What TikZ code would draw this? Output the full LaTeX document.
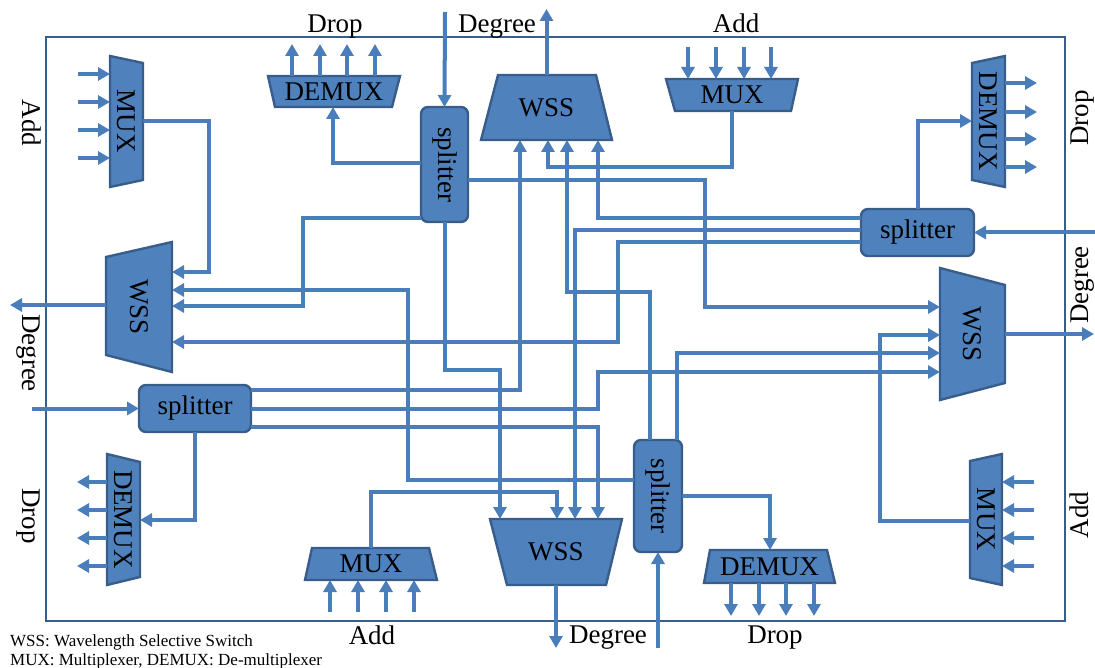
\documentclass[tikz,border=0pt]{standalone}
\usepackage{graphicx}
\usepackage{fontspec}
\setmainfont{Liberation Serif}
\usetikzlibrary{arrows.meta,backgrounds,calc}
\definecolor{bfill}{HTML}{4F81BD}
\definecolor{bedge}{HTML}{385D8A}
\definecolor{bline}{HTML}{4A7EBB}
\begin{document}
\begin{tikzpicture}[x=1pt,y=-1pt,
  bigfont/.style={font=\fontsize{27}{30}\selectfont},
  compbox/.style={bigfont, inner sep=0pt, outer sep=0pt},
  splbox/.style={compbox, draw=bedge, fill=bfill, line width=2.4pt, rounded corners=7pt},
  trapfill/.style={draw=bedge, fill=bfill, line width=2.4pt, line join=miter},
  wire/.style={draw=bline, line width=4pt},
  arw/.style={wire, -{Triangle[length=12pt,width=13pt]}},
  frm/.style={draw=bedge, line width=2.6pt},
  sidelbl/.style={bigfont, inner sep=0pt, anchor=base},
  legend/.style={font=\fontsize{17}{20}\selectfont, inner sep=0pt, anchor=base west}]
\useasboundingbox (0,0) rectangle (1095,668);
\draw[frm] (46,37) rectangle (1065,621);

% splitters
\node[splbox, minimum width=47pt, minimum height=115pt] (ST) at (444.5,164.5) {\rotatebox{-90}{splitter}};
\node[splbox, minimum width=113pt, minimum height=47pt] (SR) at (917.5,232.5) {splitter};
\node[splbox, minimum width=112pt, minimum height=47pt] (SL) at (195,408.5) {splitter};
\node[splbox, minimum width=48pt, minimum height=112pt] (SB) at (658,496) {\rotatebox{-90}{splitter}};

% trapezoid components (text nodes, shapes drawn behind)
\node[compbox, minimum width=33pt, minimum height=131pt] (ML) at (126.5,121.5) {\rotatebox{-90}{MUX}};
\node[compbox, minimum width=66pt, minimum height=130pt] (WL) at (139,307) {\rotatebox{-90}{WSS}};
\node[compbox, minimum width=33pt, minimum height=131pt] (DL) at (123.5,519.5) {\rotatebox{-90}{DEMUX}};
\node[compbox, minimum width=132pt, minimum height=31pt] (DT) at (334,91.5) {DEMUX};
\node[compbox, minimum width=131pt, minimum height=65pt] (WT) at (546.5,107.5) {WSS};
\node[compbox, minimum width=132pt, minimum height=32pt] (MT) at (732,95) {MUX};
\node[compbox, minimum width=33pt, minimum height=131pt] (DR) at (988.5,121.5) {\rotatebox{-90}{DEMUX}};
\node[compbox, minimum width=65pt, minimum height=132pt] (WR) at (972.5,334) {\rotatebox{-90}{WSS}};
\node[compbox, minimum width=32pt, minimum height=131pt] (MR) at (986,519.5) {\rotatebox{-90}{MUX}};
\node[compbox, minimum width=132pt, minimum height=66pt] (WB) at (556,552) {WSS};
\node[compbox, minimum width=131pt, minimum height=33pt] (DB) at (769.5,566.5) {DEMUX};
\node[compbox, minimum width=132pt, minimum height=32pt] (MB) at (371,564) {MUX};

\begin{scope}[on background layer]
\path[trapfill] (ML.north west) -- ($(ML.north east)+(0,7)$) -- ($(ML.south east)+(0,-7)$) -- (ML.south west) -- cycle;
\path[trapfill] ($(WL.north west)+(0,15)$) -- (WL.north east) -- (WL.south east) -- ($(WL.south west)+(0,-17)$) -- cycle;
\path[trapfill] (DL.north west) -- ($(DL.north east)+(0,8)$) -- ($(DL.south east)+(0,-8)$) -- (DL.south west) -- cycle;
\path[trapfill] (DT.north west) -- (DT.north east) -- ($(DT.south east)+(-8,0)$) -- ($(DT.south west)+(7,0)$) -- cycle;
\path[trapfill] ($(WT.north west)+(17,0)$) -- ($(WT.north east)+(-16,0)$) -- (WT.south east) -- (WT.south west) -- cycle;
\path[trapfill] (MT.north west) -- (MT.north east) -- ($(MT.south east)+(-7,0)$) -- ($(MT.south west)+(9,0)$) -- cycle;
\path[trapfill] ($(DR.north west)+(0,7)$) -- (DR.north east) -- (DR.south east) -- ($(DR.south west)+(0,-7)$) -- cycle;
\path[trapfill] (WR.north west) -- ($(WR.north east)+(0,17)$) -- ($(WR.south east)+(0,-17)$) -- (WR.south west) -- cycle;
\path[trapfill] ($(MR.north west)+(0,7)$) -- (MR.north east) -- (MR.south east) -- ($(MR.south west)+(0,-7)$) -- cycle;
\path[trapfill] (WB.north west) -- (WB.north east) -- ($(WB.south east)+(-16,0)$) -- ($(WB.south west)+(17,0)$) -- cycle;
\path[trapfill] ($(DB.north west)+(6,0)$) -- ($(DB.north east)+(-8,0)$) -- (DB.south east) -- (DB.south west) -- cycle;
\path[trapfill] ($(MB.north west)+(7,0)$) -- ($(MB.north east)+(-8,0)$) -- (MB.south east) -- (MB.south west) -- cycle;
\end{scope}

% add / drop ports
\foreach \yy in {74,102,130,158} \draw[arw] (78,\yy) -- (ML.west |- 0,\yy);
\foreach \xx in {292,320,347,375} \draw[arw] (DT.north -| \xx,0) -- (\xx,44);
\foreach \xx in {688,716,744,771} \draw[arw] (\xx,47) -- (MT.north -| \xx,0);
\foreach \yy in {83,112,139,167} \draw[arw] (DR.east |- 0,\yy) -- (1037,\yy);
\foreach \yy in {482,510,538,566} \draw[arw] (1034,\yy) -- (MR.east |- 0,\yy);
\foreach \yy in {482,510,538,566} \draw[arw] (DL.west |- 0,\yy) -- (77,\yy);
\foreach \xx in {330,358,386,414} \draw[arw] (\xx,612) -- (MB.south -| \xx,0);
\foreach \xx in {731,759,786,814} \draw[arw] (DB.south -| \xx,0) -- (\xx,616);

% degree in/out
\draw[arw] (WL.west |- 0,305) -- (10,305);
\draw[arw] (445,12) -- (ST.north);
\draw[arw] (WT.north) -- (546.5,9);
\draw[arw] (1095,232.5) -- (SR.east);
\draw[arw] (WR.east |- 0,334) -- (1094,334);
\draw[arw] (658,648) -- (SB.south);
\draw[arw] (WB.south) -- (556,648);
\draw[arw] (32,408.5) -- (SL.west);

% internal connections
\draw[arw] (ML.east |- 0,121) -- (209,121) -- (209,272) -- (WL.east |- 0,272);
\draw[arw] (ST.west |- 0,163) -- (333,163) -- (DT.south -| 333,0);
\draw[arw] (ST.west |- 0,218) -- (303,218) -- (303,306) -- (WL.east |- 0,306);
\draw[arw] (ST.east |- 0,180) -- (705,180) -- (705,307) -- (WR.west |- 0,307);
\draw[arw] (ST.south) -- (444.5,370) -- (500,370) -- (WB.north -| 500,0);
\draw[arw] (MT.south) -- (732,167) -- (548,167) -- (WT.south -| 548,0);
\draw[arw] (SR.north) -- (917.5,121) -- (DR.west |- 0,121);
\draw[arw] (SR.west |- 0,218) -- (598,218) -- (WT.south -| 598,0);
\draw[arw] (SR.west |- 0,230) -- (575,230) -- (WB.north -| 575,0);
\draw[arw] (SR.west |- 0,242) -- (618,242) -- (618,342) -- (WL.east |- 0,342);
\draw[arw] (MR.west |- 0,521) -- (880,521) -- (880,335) -- (WR.west |- 0,335);
\draw[arw] (SB.north -| 677,0) -- (677,353) -- (WR.west |- 0,353);
\draw[arw] (SB.north -| 650,0) -- (650,292) -- (567,292) -- (WT.south -| 567,0);
\draw[arw] (SB.west |- 0,480) -- (408,480) -- (408,290) -- (WL.east |- 0,290);
\draw[arw] (SB.east |- 0,496) -- (770,496) -- (DB.north -| 770,0);
\draw[arw] (SL.east |- 0,390) -- (520,390) -- (WT.south -| 520,0);
\draw[arw] (SL.east |- 0,409) -- (598,409) -- (598,372) -- (WR.west |- 0,372);
\draw[arw] (SL.east |- 0,427) -- (598,427) -- (WB.north -| 598,0);
\draw[arw] (SL.south -| 195,0) -- (195,520) -- (DL.east |- 0,520);
\draw[arw] (MB.north -| 371,0) -- (371,492) -- (557,492) -- (WB.north -| 557,0);

% labels
\node[sidelbl] (tDrop) at (335,33) {Drop};
\node[sidelbl] (tDeg) at (497,33) {Degree};
\node[sidelbl] (tAdd) at (736,32.5) {Add};
\node[sidelbl] (bAdd) at (372,644) {Add};
\node[sidelbl] (bDeg) at (608,643) {Degree};
\node[sidelbl] (bDrop) at (775,643) {Drop};
\node[sidelbl, rotate=-90] (lAdd) at (22,123) {Add};
\node[sidelbl, rotate=-90] (lDeg) at (22,353) {Degree};
\node[sidelbl, rotate=-90] (lDrop) at (22,516) {Drop};
\node[sidelbl, rotate=90] (rDrop) at (1088,118) {Drop};
\node[sidelbl, rotate=90] (rDeg) at (1088,285) {Degree};
\node[sidelbl, rotate=90] (rAdd) at (1088,515) {Add};

\node[legend] (leg1) at (10,646.5) {WSS: Wavelength Selective Switch};
\node[legend] (leg2) at (10,665.5) {MUX: Multiplexer, DEMUX: De-multiplexer};
\end{tikzpicture}
\end{document}
